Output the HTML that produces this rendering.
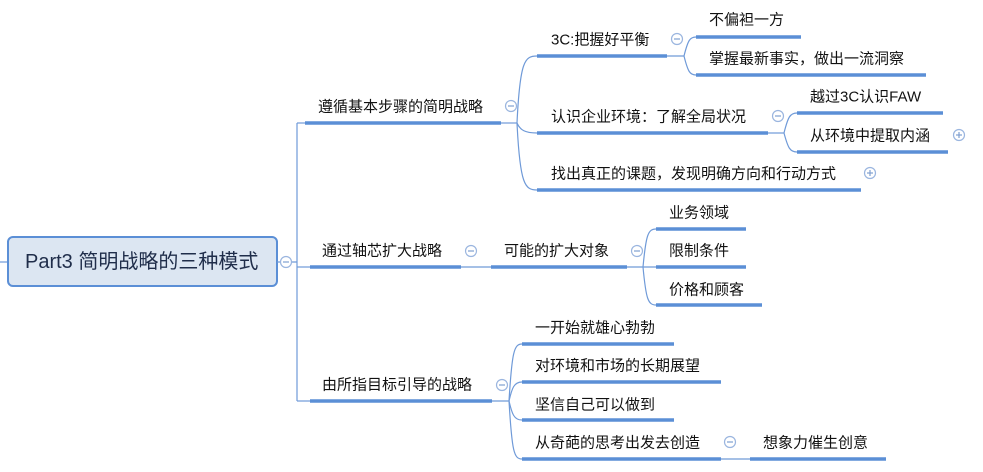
<!DOCTYPE html>
<html><head><meta charset="utf-8"><style>
html,body{margin:0;padding:0;background:#fff;}
svg{display:block;}
text{font-family:"Liberation Sans","Noto Sans CJK SC",sans-serif;font-size:15px;fill:#111;dominant-baseline:central;}
.u{stroke:#5b8fd6;stroke-width:3.5;}
.l{stroke:#6f9ad8;stroke-width:1.2;fill:none;}
.c{fill:#fff;stroke:#9ab5df;stroke-width:1.2;}
.s{stroke:#7f9fd0;stroke-width:1.2;}
</style></head><body>
<svg width="983" height="472" viewBox="0 0 983 472">
<line x1="0" y1="262" x2="8" y2="262" class="l"/>
<rect x="8" y="237" width="269" height="49" rx="5" fill="#dce6f2" stroke="#5b8fd6" stroke-width="2"/>
<text x="25" y="262" style="font-size:20px;fill:#1f2d4a">Part3 简明战略的三种模式</text>
<line x1="277" y1="262" x2="297" y2="262" class="l"/>
<line x1="297" y1="123" x2="297" y2="401" class="l"/>
<line x1="297" y1="123" x2="310" y2="123" class="l"/>
<line x1="297" y1="267" x2="310" y2="267" class="l"/>
<line x1="297" y1="401" x2="310" y2="401" class="l"/>
<circle cx="286" cy="262" r="5.5" class="c"/><line x1="283" y1="262" x2="289" y2="262" class="s"/>

<line x1="305" y1="123" x2="501" y2="123" class="u"/>
<text x="318" y="107">遵循基本步骤的简明战略</text>
<circle cx="511" cy="106" r="5.5" class="c"/><line x1="508" y1="106" x2="514" y2="106" class="s"/>
<line x1="501" y1="123" x2="517" y2="123" class="l"/>
<path d="M517 123 C520 60,525 56,537 56" class="l"/>
<path d="M517 123 C520 130,525 133,537 133" class="l"/>
<path d="M517 123 C520 185,525 190,537 190" class="l"/>
<line x1="537" y1="56" x2="667" y2="56" class="u"/>
<text x="551" y="40">3C:把握好平衡</text>
<circle cx="677" cy="39" r="5.5" class="c"/><line x1="674" y1="39" x2="680" y2="39" class="s"/>
<line x1="667" y1="56" x2="684" y2="56" class="l"/>
<path d="M684 56 C688 40,690 37,696 37" class="l"/>
<path d="M684 56 C688 72,690 75,696 75" class="l"/>
<line x1="696" y1="37" x2="801" y2="37" class="u"/>
<text x="709" y="20">不偏袒一方</text>
<line x1="696" y1="75" x2="926" y2="75" class="u"/>
<text x="709" y="59">掌握最新事实，做出一流洞察</text>

<line x1="537" y1="133" x2="768" y2="133" class="u"/>
<text x="551" y="117">认识企业环境：了解全局状况</text>
<circle cx="778" cy="116" r="5.5" class="c"/><line x1="775" y1="116" x2="781" y2="116" class="s"/>
<line x1="768" y1="133" x2="784" y2="133" class="l"/>
<path d="M784 133 C788 117,790 113,797 113" class="l"/>
<path d="M784 133 C788 148,790 152,797 152" class="l"/>
<line x1="797" y1="113" x2="943" y2="113" class="u"/>
<text x="810" y="97">越过3C认识FAW</text>
<line x1="797" y1="152" x2="948" y2="152" class="u"/>
<text x="810" y="136">从环境中提取内涵</text>
<circle cx="959" cy="135" r="5.5" class="c"/><line x1="956" y1="135" x2="962" y2="135" class="s"/><line x1="959" y1="132" x2="959" y2="138" class="s"/>

<line x1="537" y1="190" x2="861" y2="190" class="u"/>
<text x="551" y="174">找出真正的课题，发现明确方向和行动方式</text>
<circle cx="870" cy="173" r="5.5" class="c"/><line x1="867" y1="173" x2="873" y2="173" class="s"/><line x1="870" y1="170" x2="870" y2="176" class="s"/>

<line x1="310" y1="267" x2="461" y2="267" class="u"/>
<text x="322" y="251">通过轴芯扩大战略</text>
<circle cx="471" cy="251" r="5.5" class="c"/><line x1="468" y1="251" x2="474" y2="251" class="s"/>
<line x1="461" y1="267" x2="491" y2="267" class="l"/>
<line x1="491" y1="267" x2="627" y2="267" class="u"/>
<text x="504" y="251">可能的扩大对象</text>
<circle cx="637" cy="251" r="5.5" class="c"/><line x1="634" y1="251" x2="640" y2="251" class="s"/>
<line x1="627" y1="267" x2="656" y2="267" class="l"/>
<path d="M643 267 C646 235,648 229,656 229" class="l"/>
<path d="M643 267 C646 299,648 305,656 305" class="l"/>
<line x1="656" y1="229" x2="746" y2="229" class="u"/>
<text x="669" y="213">业务领域</text>
<line x1="656" y1="267" x2="746" y2="267" class="u"/>
<text x="669" y="251">限制条件</text>
<line x1="656" y1="305" x2="762" y2="305" class="u"/>
<text x="669" y="290">价格和顾客</text>

<line x1="310" y1="401" x2="492" y2="401" class="u"/>
<text x="322" y="385">由所指目标引导的战略</text>
<circle cx="502" cy="385" r="5.5" class="c"/><line x1="499" y1="385" x2="505" y2="385" class="s"/>
<line x1="492" y1="401" x2="509" y2="401" class="l"/>
<path d="M509 401 C512 352,514 344,522 344" class="l"/>
<path d="M509 401 C512 388,514 382,522 382" class="l"/>
<path d="M509 401 C512 414,514 420,522 420" class="l"/>
<path d="M509 401 C512 452,514 459,522 459" class="l"/>
<line x1="522" y1="344" x2="674" y2="344" class="u"/>
<text x="535" y="328">一开始就雄心勃勃</text>
<line x1="522" y1="382" x2="721" y2="382" class="u"/>
<text x="535" y="366">对环境和市场的长期展望</text>
<line x1="522" y1="420" x2="674" y2="420" class="u"/>
<text x="535" y="405">坚信自己可以做到</text>
<line x1="522" y1="459" x2="721" y2="459" class="u"/>
<text x="535" y="443">从奇葩的思考出发去创造</text>
<circle cx="730" cy="442" r="5.5" class="c"/><line x1="727" y1="442" x2="733" y2="442" class="s"/>
<line x1="721" y1="459" x2="750" y2="459" class="l"/>
<line x1="750" y1="459" x2="886" y2="459" class="u"/>
<text x="763" y="443">想象力催生创意</text>
</svg>
</body></html>
